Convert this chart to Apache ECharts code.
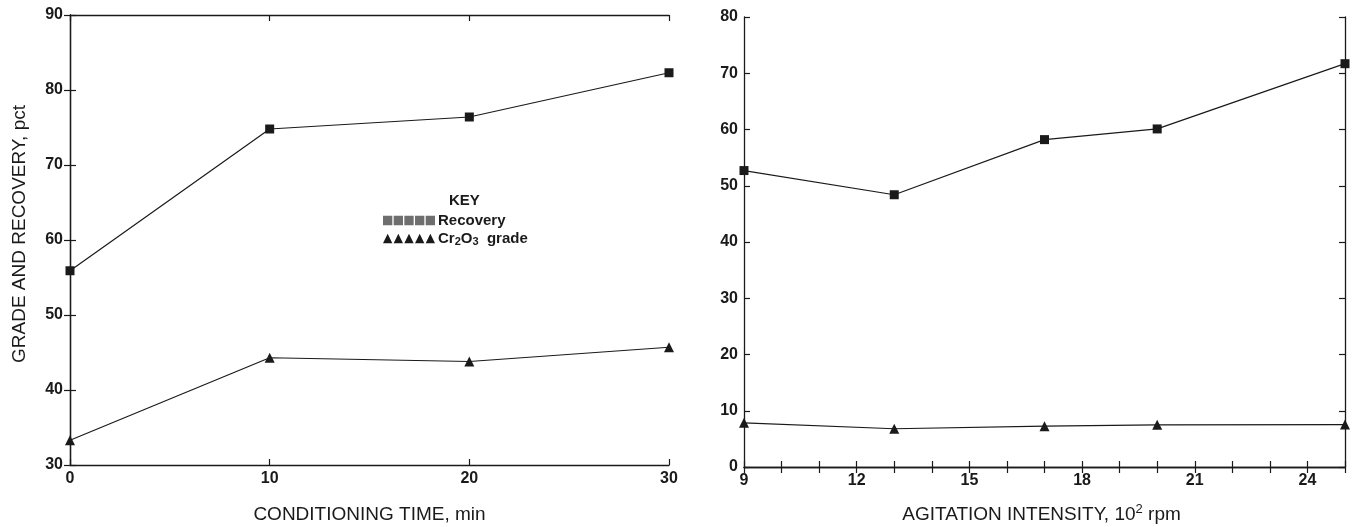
<!DOCTYPE html>
<html>
<head>
<meta charset="utf-8">
<script src="https://cdn.jsdelivr.net/npm/echarts@6/dist/echarts.min.js"></script>
<style>html,body{margin:0;padding:0;background:#fff}#c{width:1358px;height:527px}</style>
</head>
<body>
<div id="c"></div>
<script>
// ---- data ----
const seriesNames = ['Recovery', 'Cr2O3 grade'];
const leftTime = [0, 10, 20, 30];
const leftRecovery = [55.9, 74.8, 76.4, 82.3];
const leftGrade = [33.3, 44.3, 43.8, 45.7];
const rightSpeed = [9, 13, 17, 20, 25];
const rightRecovery = [52.7, 48.4, 58.2, 60.1, 71.7];
const rightGrade = [7.85, 6.8, 7.25, 7.5, 7.55];
const rightXLabels = [9, 12, 15, 18, 21, 24];
const leftXName = 'CONDITIONING TIME, min';
const leftYName = 'GRADE AND RECOVERY, pct';
const keyTitle = 'KEY';

const pairs = (xs, ys) => xs.map((x, i) => [x, ys[i]]);
const ink = '#1a1a1a';
const tickFont = { color: ink, fontFamily: 'Liberation Sans, Arial, sans-serif', fontWeight: 'bold', fontSize: 16 };
const nameFont = { color: ink, fontFamily: 'Liberation Sans, Arial, sans-serif', fontSize: 19 };
const axLine = { show: true, lineStyle: { color: ink, width: 1.3 } };
const tick = { show: true, inside: true, length: 6, lineStyle: { color: ink, width: 1.2 } };

function mirror(base, pos) {
  return Object.assign({}, base, {
    position: pos, name: '', axisLabel: { show: false },
    axisLine: axLine, axisTick: tick, splitLine: { show: false }
  });
}

const lx = { type: 'value', gridIndex: 0, min: 0, max: 30, interval: 10,
  axisLine: axLine, axisTick: tick, splitLine: { show: false },
  axisLabel: Object.assign({ margin: 6 }, tickFont),
  name: leftXName, nameLocation: 'middle', nameGap: 40, nameTextStyle: nameFont };
const ly = { type: 'value', gridIndex: 0, min: 30, max: 90, interval: 10,
  axisLine: axLine, axisTick: tick, splitLine: { show: false },
  axisLabel: Object.assign({ margin: 7 }, tickFont),
  name: leftYName, nameLocation: 'middle', nameGap: 41, nameTextStyle: Object.assign({}, nameFont, { padding: [0, 0, 0, 12] }) };
const rx = { type: 'value', gridIndex: 1, min: 9, max: 25, interval: 1,
  axisLine: axLine, axisTick: tick, splitLine: { show: false },
  axisLabel: Object.assign({ margin: 6, formatter: v => rightXLabels.includes(v) ? String(v) : '' }, tickFont),
  name: '{t|AGITATION INTENSITY, 10}{s|2}{t| rpm}', nameLocation: 'middle', nameGap: 36,
  nameTextStyle: Object.assign({}, nameFont, { padding: [0, 6, 0, 0], rich: { t: nameFont, s: Object.assign({}, nameFont, { fontSize: 13, verticalAlign: 'top', padding: [0, 0, 10, 0] }) } }) };
const ry = { type: 'value', gridIndex: 1, min: 0, max: 80, interval: 10,
  axisLine: axLine, axisTick: tick, splitLine: { show: false },
  axisLabel: Object.assign({ margin: 6 }, tickFont) };

const lineStyle = { color: ink, width: 1.2 };
function mk(name, xi, yi, data, sym, size) {
  return { name, type: 'line', xAxisIndex: xi, yAxisIndex: yi, data,
    symbol: sym, symbolSize: size, showSymbol: true,
    lineStyle, itemStyle: { color: ink }, emphasis: { disabled: true }, animation: false };
}

const sqPath = 'path://' + [0, 1, 2, 3, 4].map(i => 'M' + (i * 11) + ',0h9.6v9.6h-9.6z').join(' ');
const triPath = 'path://' + [0, 1, 2, 3, 4].map(i => 'M' + (i * 11) + ',9.6L' + (i * 11 + 4.8) + ',0L' + (i * 11 + 9.6) + ',9.6z').join(' ');
const legFont = { color: ink, fontFamily: 'Liberation Sans, Arial, sans-serif', fontWeight: 'bold', fontSize: 15 };

const chart = echarts.init(document.getElementById('c'), null, { renderer: 'canvas' });
chart.setOption({
  animation: false,
  backgroundColor: '#fff',
  title: { text: keyTitle, left: 444, top: 188, textStyle: legFont },
  legend: {
    orient: 'vertical', left: 378, top: 208, itemWidth: 52, itemHeight: 10, itemGap: 3,
    selectedMode: false,
    formatter: n => n === seriesNames[1] ? '{a|Cr}{s|2}{a|O}{s|3}{a|  grade}' : '{a|' + n + '}',
    textStyle: Object.assign({}, legFont, { padding: [0, 0, 0, -2], rich: {
      a: legFont,
      s: Object.assign({}, legFont, { fontSize: 11, verticalAlign: 'bottom', padding: [6, 0, 0, 0] })
    } }),
    data: [
      { name: seriesNames[0], icon: sqPath, itemStyle: { color: '#6e6e6e' } },
      { name: seriesNames[1], icon: triPath, itemStyle: { color: ink } }
    ]
  },
  grid: [
    { left: 70, right: 689, top: 15, bottom: 62, outerBoundsMode: 'none', containLabel: false },
    { left: 744, right: 13, top: 17, bottom: 60, outerBoundsMode: 'none', containLabel: false }
  ],
  xAxis: [lx, rx, mirror(lx, 'top'), mirror(rx, 'top')],
  yAxis: [ly, ry, mirror(ly, 'right'), mirror(ry, 'right')],
  series: [
    mk(seriesNames[0], 0, 0, pairs(leftTime, leftRecovery), 'rect', 9),
    mk(seriesNames[1], 0, 0, pairs(leftTime, leftGrade), 'triangle', 10),
    mk(seriesNames[0], 1, 1, pairs(rightSpeed, rightRecovery), 'rect', 9),
    mk(seriesNames[1], 1, 1, pairs(rightSpeed, rightGrade), 'triangle', 10)
  ]
});
</script>
</body>
</html>
